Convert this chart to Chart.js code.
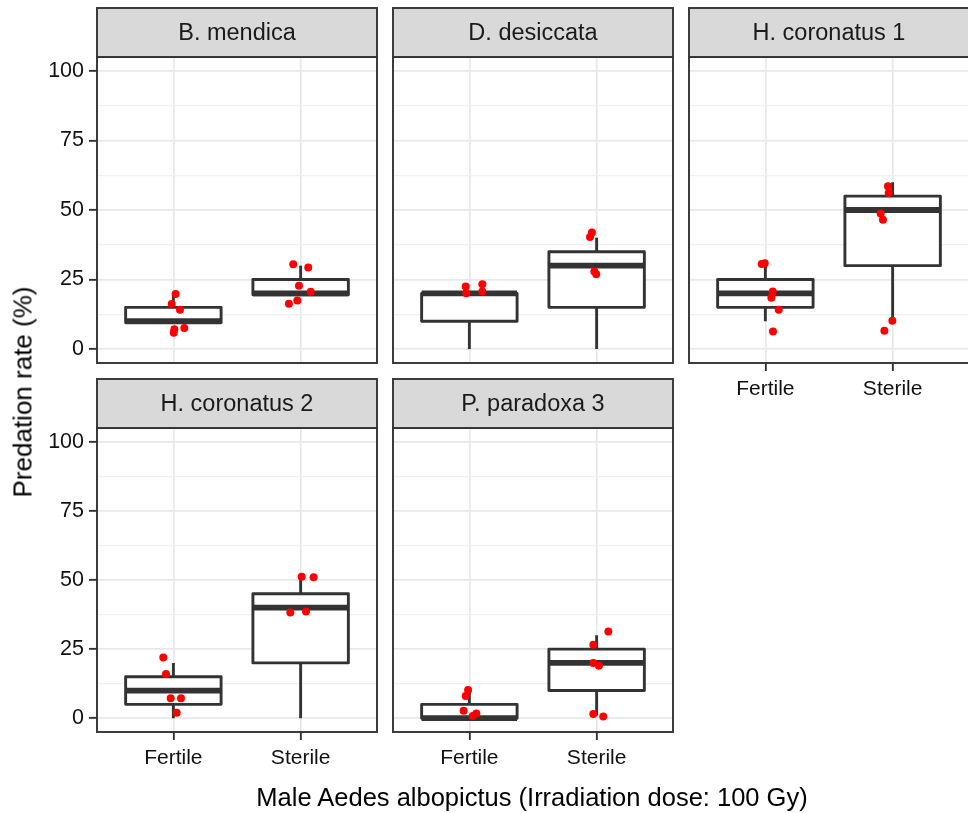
<!DOCTYPE html>
<html>
<head>
<meta charset="utf-8">
<title>Predation rate</title>
<script src="https://cdn.jsdelivr.net/npm/chart.js@4.4.1/dist/chart.umd.min.js"></script>
<style>
  body { margin: 0; width: 968px; height: 813px; overflow: hidden; background: #fff; position: relative; font-family: 'Liberation Sans', Arial, sans-serif; }
  canvas { position: absolute; left: 0; top: 0; }
  .axis-title { position: absolute; font-size: 26px; color: #000; white-space: nowrap; }
  #x-title { left: 532px; top: 797px; font-size: 25.5px; transform: translate(-50%, -50%); }
  #y-title { left: 23px; top: 392px; transform: translate(-50%, -50%) rotate(-90deg); }
</style>
</head>
<body>
<div id="panels"></div>
<div class="axis-title" id="x-title"></div>
<div class="axis-title" id="y-title"></div>
<script>
'use strict';

const species = ['B. mendica', 'D. desiccata', 'H. coronatus 1', 'H. coronatus 2', 'P. paradoxa 3'];
const groups = ['Fertile', 'Sterile'];
const yTicks = [0, 25, 50, 75, 100];
const yMinor = [12.5, 37.5, 62.5, 87.5];
const xTitle = 'Male Aedes albopictus (Irradiation dose: 100 Gy)';
const yTitle = 'Predation rate (%)';

// box stats per species: [lower whisker, q1, median, q3, upper whisker]
const fertileBox = [
  [9.5, 9.5, 10, 15, 20],
  [0, 10, 20, 20, 20],
  [10, 15, 20, 25, 30],
  [0, 5, 10, 15, 20],
  [0, 0, 0, 5, 10]
];
const sterileBox = [
  [19.5, 19.5, 20, 25, 30],
  [0, 15, 30, 35, 40],
  [10, 30, 50, 55, 60],
  [0, 20, 40, 45, 50],
  [1, 10, 20, 25, 30]
];

// jittered points (x: 1 = Fertile, 2 = Sterile)
const pointsX = [
  [1.018, 0.987, 1.052, 1.008, 1.003, 1.086, 1.942, 2.060, 1.987, 2.079, 1.974, 1.908],
  [0.971, 0.976, 1.102, 1.102, 1.963, 1.948, 1.982, 1.997],
  [0.971, 0.995, 1.058, 1.047, 1.105, 1.060, 1.963, 1.969, 1.906, 1.924, 1.998, 1.935],
  [0.921, 0.942, 0.979, 1.060, 1.026, 2.008, 2.102, 1.919, 2.042],
  [0.990, 0.971, 0.955, 1.055, 1.026, 2.092, 1.974, 1.974, 2.018, 1.974, 2.052]
];
const pointsY = [
  [19.8, 16.2, 14.1, 7.1, 5.9, 7.6, 30.5, 29.3, 22.8, 20.6, 17.5, 16.3],
  [22.5, 20.1, 23.3, 20.7, 41.9, 40.3, 27.9, 26.9],
  [30.6, 30.9, 20.7, 18.5, 14.1, 6.3, 58.5, 56.1, 48.7, 46.5, 10.2, 6.6],
  [22.0, 16.0, 7.2, 7.2, 2.0, 51.2, 51.0, 38.2, 38.6],
  [10.2, 8.0, 2.7, 1.7, 0.8, 31.4, 26.6, 20.0, 19.0, 1.5, 0.6]
];

// plot area of each panel on the page
const panelPos = [
  { left: 97, right: 377, top: 57, bottom: 363, yAxis: true, xAxis: false },
  { left: 393, right: 673, top: 57, bottom: 363, yAxis: false, xAxis: false },
  { left: 689, right: 969, top: 57, bottom: 363, yAxis: false, xAxis: true },
  { left: 97, right: 377, top: 428, bottom: 732, yAxis: true, xAxis: true },
  { left: 393, right: 673, top: 428, bottom: 732, yAxis: false, xAxis: true }
];

const canvasW = 980;
const canvasH = 813;
const stripH = 49;
const yAxisW = 50;
const xAxisH = 45;
const dark = '#333333';
const font = 'Liberation Sans, Arial, sans-serif';

document.getElementById('x-title').textContent = xTitle;
document.getElementById('y-title').textContent = yTitle;

function panelPlugin(i) {
  return {
    id: 'panel' + i,
    beforeDatasetsDraw(chart) {
      const ctx = chart.ctx;
      const xs = chart.scales.x;
      const ys = chart.scales.y;
      [fertileBox[i], sterileBox[i]].forEach((b, g) => {
        const cx = xs.getPixelForValue(g + 1);
        const x0 = xs.getPixelForValue(g + 1 - 0.375);
        const x1 = xs.getPixelForValue(g + 1 + 0.375);
        const lo = ys.getPixelForValue(b[0]);
        const q1 = ys.getPixelForValue(b[1]);
        const med = ys.getPixelForValue(b[2]);
        const q3 = ys.getPixelForValue(b[3]);
        const hi = ys.getPixelForValue(b[4]);
        ctx.save();
        ctx.strokeStyle = dark;
        ctx.lineWidth = 2.9;
        ctx.lineJoin = 'round';
        ctx.beginPath();
        ctx.moveTo(cx, hi);
        ctx.lineTo(cx, q3);
        ctx.moveTo(cx, q1);
        ctx.lineTo(cx, lo);
        ctx.stroke();
        ctx.fillStyle = '#fff';
        ctx.fillRect(x0, q3, x1 - x0, q1 - q3);
        ctx.strokeRect(x0, q3, x1 - x0, q1 - q3);
        ctx.lineWidth = 5.8;
        ctx.beginPath();
        ctx.moveTo(x0, med);
        ctx.lineTo(x1, med);
        ctx.stroke();
        ctx.restore();
      });
    },
    afterDraw(chart) {
      const ctx = chart.ctx;
      const a = chart.chartArea;
      ctx.save();
      ctx.strokeStyle = dark;
      ctx.lineWidth = 1.9;
      ctx.strokeRect(a.left, a.top, a.right - a.left, a.bottom - a.top);
      ctx.fillStyle = '#d9d9d9';
      ctx.fillRect(a.left, a.top - stripH, a.right - a.left, stripH);
      ctx.strokeRect(a.left, a.top - stripH, a.right - a.left, stripH);
      ctx.fillStyle = '#1a1a1a';
      ctx.font = '23.5px ' + font;
      ctx.textAlign = 'center';
      ctx.textBaseline = 'middle';
      ctx.fillText(species[i], (a.left + a.right) / 2, a.top - stripH / 2 + 1);
      ctx.restore();
    }
  };
}

const holder = document.getElementById('panels');

species.forEach((name, i) => {
  const p = panelPos[i];
  const canvasEl = document.createElement('canvas');
  canvasEl.width = canvasW;
  canvasEl.height = canvasH;
  canvasEl.style.width = canvasW + 'px';
  canvasEl.style.height = canvasH + 'px';
  holder.appendChild(canvasEl);

  const yW = p.yAxis ? yAxisW : 0;
  const xH = p.xAxis ? xAxisH : 0;
  const pts = pointsX[i].map((x, k) => ({ x: x, y: pointsY[i][k] }));

  new Chart(canvasEl, {
    type: 'scatter',
    data: {
      datasets: [{
        label: name,
        data: pts,
        backgroundColor: '#ff0000',
        borderWidth: 0,
        pointRadius: 4
      }]
    },
    options: {
      responsive: false,
      animation: false,
      devicePixelRatio: 1,
      layout: {
        padding: {
          left: p.left - yW,
          right: canvasW - p.right,
          top: p.top,
          bottom: canvasH - p.bottom - xH
        }
      },
      plugins: {
        legend: { display: false },
        tooltip: { enabled: false }
      },
      scales: {
        x: {
          type: 'linear',
          min: 0.4,
          max: 2.6,
          afterBuildTicks: s => { s.ticks = groups.map((g, k) => ({ value: k + 1 })); },
          afterFit: s => { s.height = xH; },
          border: { display: false },
          grid: {
            color: '#e8e8e8',
            lineWidth: 1.7,
            drawTicks: p.xAxis,
            tickLength: 8,
            tickColor: dark,
            tickWidth: 1.9
          },
          ticks: {
            display: p.xAxis,
            autoSkip: false,
            maxRotation: 0,
            padding: 6,
            color: '#111',
            font: { family: font, size: 21 },
            callback: v => groups[Math.round(v) - 1]
          }
        },
        y: {
          type: 'linear',
          min: -5,
          max: 105,
          afterBuildTicks: s => {
            s.ticks = yTicks.concat(yMinor).sort((a, b) => a - b).map(v => ({ value: v }));
          },
          afterFit: s => { s.width = yW; },
          border: { display: false },
          grid: {
            color: c => yTicks.includes(c.tick.value) ? '#e8e8e8' : '#f0f0f0',
            lineWidth: c => yTicks.includes(c.tick.value) ? 1.7 : 1.3,
            drawTicks: p.yAxis,
            tickLength: 8,
            tickColor: c => yTicks.includes(c.tick.value) ? dark : 'rgba(0,0,0,0)',
            tickWidth: 1.9
          },
          ticks: {
            display: p.yAxis,
            autoSkip: false,
            padding: 5,
            color: '#111',
            font: { family: font, size: 21.5 },
            callback: v => yTicks.includes(v) ? String(v) : ''
          }
        }
      }
    },
    plugins: [panelPlugin(i)]
  });
});
</script>
</body>
</html>
